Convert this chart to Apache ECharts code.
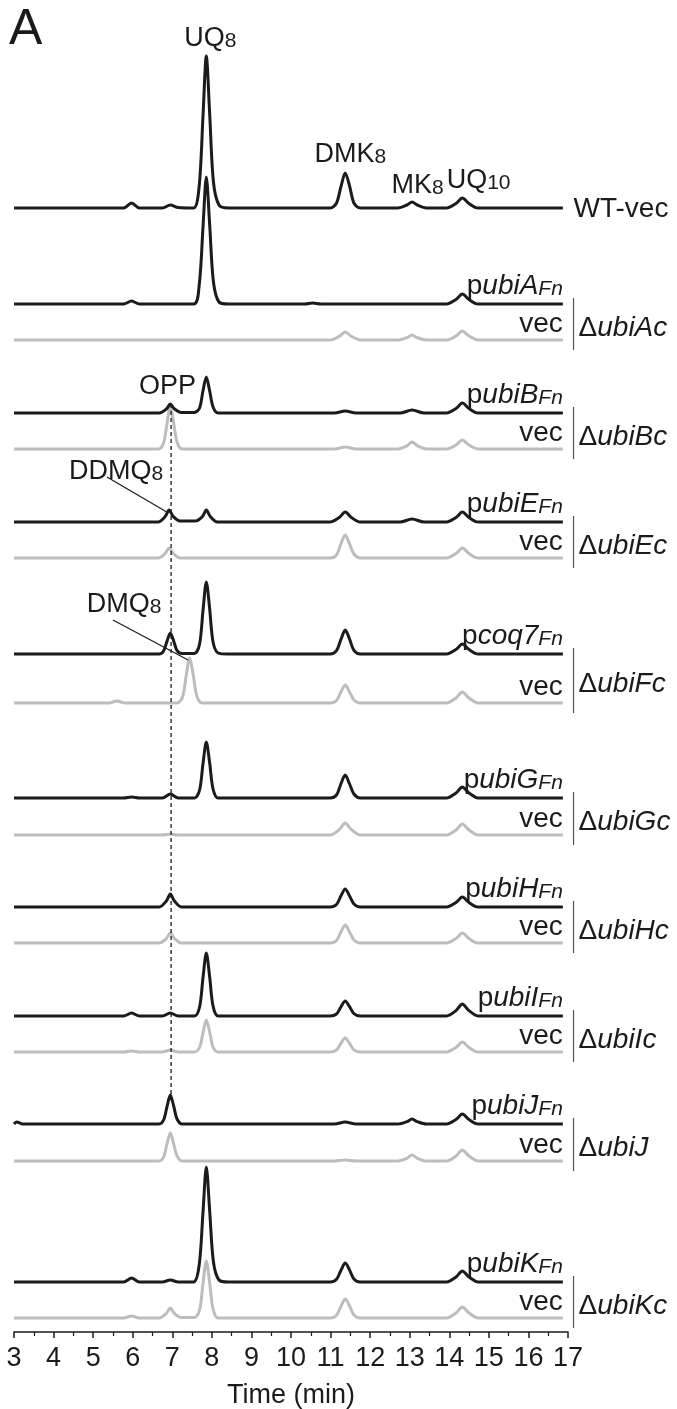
<!DOCTYPE html>
<html>
<head>
<meta charset="utf-8">
<script src="https://cdn.jsdelivr.net/npm/echarts@6.0.0/dist/echarts.min.js"></script>
<style>
  html, body { margin: 0; padding: 0; background: #fff; }
  #chart { width: 677px; height: 1409px; }
</style>
</head>
<body>
<div id="chart"></div>
<script>
// time axis (min)
const timeMin = 3;
const timeMax = 17;
const traceEnd = 16.87;

// chromatogram traces: [time (min), signal]
const wtVec = [[3,0],[5.77,0],[5.97,5],[6.17,0],[6.75,0],[6.95,3],[7.15,0.5],[7.54,0],[7.68,22],[7.775,91],[7.86,152],[7.945,94],[8.04,26],[8.18,3],[8.42,0],[10.99,0],[11.15,5],[11.26,21],[11.37,35],[11.48,22],[11.59,5],[11.75,0],[12.7,0],[12.93,3],[13.06,6],[13.19,3],[13.42,0],[13.93,0],[14.17,4.5],[14.33,10],[14.49,4.7],[14.73,0],[16.87,0]];
const pUbiA = [[3,0],[5.77,0],[5.97,3],[6.17,0],[7.54,0],[7.68,19],[7.775,76],[7.86,127],[7.945,79],[8.04,22],[8.18,2],[8.42,0],[10.35,0],[10.55,1],[10.75,0],[13.93,0],[14.17,4.5],[14.33,10],[14.49,4.7],[14.73,0],[16.87,0]];
const vecUbiA = [[3,0],[10.99,0],[11.22,3.6],[11.37,8],[11.52,3.8],[11.75,0],[12.7,0],[12.93,2.3],[13.06,5],[13.19,2.4],[13.42,0],[13.93,0],[14.17,4],[14.33,9],[14.49,4.2],[14.73,0],[16.87,0]];
const pUbiB = [[3,0],[6.67,0],[6.85,4],[6.95,9],[7.05,4.2],[7.23,0.5],[7.56,0.5],[7.69,5],[7.775,22],[7.86,36],[7.945,22],[8.03,6],[8.16,0],[11.1,0],[11.37,2],[11.64,0],[12.76,0],[13.06,3],[13.36,0],[13.93,0],[14.17,4.5],[14.33,10],[14.49,4.7],[14.73,0],[16.87,0]];
const vecUbiB = [[3,0],[6.65,0],[6.78,6],[6.865,25],[6.95,42],[7.035,26],[7.12,7],[7.25,0],[11.1,0],[11.37,2],[11.64,0],[12.7,0],[12.93,3.2],[13.06,7],[13.19,3.3],[13.42,0],[13.93,0],[14.17,4],[14.33,9],[14.49,4.2],[14.73,0],[16.87,0]];
const pUbiE = [[3,0],[6.64,0],[6.82,5.4],[6.92,12],[7.02,5.6],[7.2,1],[7.58,1],[7.76,5.4],[7.86,12],[7.96,5.6],[8.14,0],[10.99,0],[11.22,4.5],[11.37,10],[11.52,4.7],[11.75,0],[12.76,0],[13.06,3],[13.36,0],[13.93,0],[14.17,4.5],[14.33,10],[14.49,4.7],[14.73,0],[16.87,0]];
const vecUbiE = [[3,0],[6.64,0],[6.82,4.5],[6.92,10],[7.02,4.7],[7.2,0],[10.99,0],[11.15,3],[11.26,14],[11.37,23],[11.48,14],[11.59,4],[11.75,0],[13.93,0],[14.17,4.5],[14.33,10],[14.49,4.7],[14.73,0],[16.87,0]];
const pCoq7 = [[3,0],[6.67,0],[6.78,3],[6.865,12.6],[6.95,21],[7.035,13],[7.12,3.4],[7.25,0.5],[7.56,0.5],[7.69,10],[7.775,43],[7.86,72],[7.945,45],[8.03,12],[8.16,1],[8.4,0],[10.99,0],[11.15,3.4],[11.26,14.4],[11.37,24],[11.48,15],[11.59,3.6],[11.75,0],[13.93,0],[14.17,4.5],[14.33,10],[14.49,4.7],[14.73,0],[16.87,0]];
const vecUbiF = [[3,0],[5.4,0],[5.6,2],[5.8,0],[7.12,0],[7.26,6],[7.35,27],[7.44,45],[7.53,28],[7.62,7],[7.76,0],[10.99,0],[11.15,2.5],[11.26,11],[11.37,18],[11.48,11],[11.59,3],[11.75,0],[13.93,0],[14.17,5],[14.33,11],[14.49,5.2],[14.73,0],[16.87,0]];
const pUbiG = [[3,0],[5.77,0],[5.97,1],[6.17,0],[6.75,0],[6.95,4],[7.15,0],[7.56,0],[7.69,8],[7.775,34],[7.86,56],[7.945,35],[8.03,9],[8.16,0],[10.99,0],[11.15,3],[11.26,14],[11.37,23],[11.48,14],[11.59,4],[11.75,0],[13.93,0],[14.17,5],[14.33,11],[14.49,5.2],[14.73,0],[16.87,0]];
const vecUbiG = [[3,0],[6.75,0],[6.95,1],[7.15,0],[10.99,0],[11.22,5.4],[11.37,12],[11.52,5.6],[11.75,0],[13.93,0],[14.17,5],[14.33,11],[14.49,5.2],[14.73,0],[16.87,0]];
const pUbiH = [[3,0],[6.67,0],[6.85,6],[6.95,13],[7.05,6.2],[7.23,0],[10.99,0],[11.15,2.5],[11.26,11],[11.37,18],[11.48,11],[11.59,3],[11.75,0],[13.93,0],[14.17,4.5],[14.33,10],[14.49,4.7],[14.73,0],[16.87,0]];
const vecUbiH = [[3,0],[6.67,0],[6.85,4.5],[6.95,10],[7.05,4.7],[7.23,0],[10.99,0],[11.15,2.5],[11.26,11],[11.37,18],[11.48,11],[11.59,3],[11.75,0],[13.93,0],[14.17,4.5],[14.33,10],[14.49,4.7],[14.73,0],[16.87,0]];
const pUbiI = [[3,0],[5.77,0],[5.97,3],[6.17,0],[6.75,0],[6.95,3],[7.15,0],[7.56,0],[7.69,9],[7.775,38],[7.86,63],[7.945,39],[8.03,10],[8.16,0],[10.99,0],[11.15,2],[11.26,9],[11.37,15],[11.48,9.3],[11.59,2.3],[11.75,0],[13.93,0],[14.17,5.4],[14.33,12],[14.49,5.6],[14.73,0],[16.87,0]];
const vecUbiI = [[3,0],[5.77,0],[5.97,1],[6.17,0],[6.75,0],[6.95,2],[7.15,0],[7.56,0],[7.69,4.5],[7.775,19],[7.86,32],[7.945,20],[8.03,5],[8.16,0],[10.99,0],[11.15,2],[11.26,8.5],[11.37,14],[11.48,8.7],[11.59,2.1],[11.75,0],[13.93,0],[14.17,4.5],[14.33,10],[14.49,4.7],[14.73,0],[16.87,0]];
const pUbiJ = [[3,0],[3.07,2],[3.22,0],[6.67,0],[6.78,4],[6.865,17],[6.95,29],[7.035,18],[7.12,5],[7.25,0],[11.1,0],[11.37,2],[11.64,0],[12.7,0],[12.93,2.3],[13.06,5],[13.19,2.4],[13.42,0],[13.93,0],[14.17,4.5],[14.33,10],[14.49,4.7],[14.73,0],[16.87,0]];
const vecUbiJ = [[3,0],[6.67,0],[6.78,4],[6.865,17],[6.95,28],[7.035,17],[7.12,5],[7.25,0],[11.1,0],[11.37,1],[11.64,0],[12.7,0],[12.93,2.7],[13.06,6],[13.19,2.8],[13.42,0],[13.93,0],[14.17,5],[14.33,11],[14.49,5.2],[14.73,0],[16.87,0]];
const pUbiK = [[3,0],[5.77,0],[5.97,4],[6.17,0],[6.75,0],[6.95,2],[7.15,0],[7.54,0],[7.68,17],[7.775,69],[7.86,115],[7.945,71],[8.04,20],[8.18,2],[8.42,0],[10.99,0],[11.15,2.7],[11.26,11.5],[11.37,19],[11.48,12],[11.59,3],[11.75,0],[13.93,0],[14.17,5],[14.33,11],[14.49,5.2],[14.73,0],[16.87,0]];
const vecUbiK = [[3,0],[5.77,0],[5.97,2],[6.17,0],[6.67,0],[6.85,4.5],[6.95,10],[7.05,4.7],[7.23,0.5],[7.56,0.5],[7.69,8],[7.775,34],[7.86,57],[7.945,35],[8.03,9],[8.16,0],[10.99,0],[11.15,2.7],[11.26,11.5],[11.37,19],[11.48,12],[11.59,3],[11.75,0],[13.93,0],[14.17,5],[14.33,11],[14.49,5.2],[14.73,0],[16.87,0]];

// strain pairs: complemented plasmid trace + empty vector trace
const plasmidGenes = ['ubiA', 'ubiB', 'ubiE', 'coq7', 'ubiG', 'ubiH', 'ubiI', 'ubiJ', 'ubiK'];
const mutantNames = ['ubiAc', 'ubiBc', 'ubiEc', 'ubiFc', 'ubiGc', 'ubiHc', 'ubiIc', 'ubiJ', 'ubiKc'];
const plasmidTraces = [pUbiA, pUbiB, pUbiE, pCoq7, pUbiG, pUbiH, pUbiI, pUbiJ, pUbiK];
const vecTraces = [vecUbiA, vecUbiB, vecUbiE, vecUbiF, vecUbiG, vecUbiH, vecUbiI, vecUbiJ, vecUbiK];

// vertical stacking offsets of each trace (signal units)
const wtOffset = 1124;
const plasmidOffsets = [1028, 919, 810, 678, 534, 425, 316, 208, 50];
const vecOffsets = [992, 883, 774, 629, 497, 389, 280, 171, 14];

const FONT = '"Liberation Sans", Arial, Helvetica, sans-serif';
const BLACK = '#1b1b1b';
const GREY = '#bdbdbd';

const chart = echarts.init(document.getElementById('chart'), null, { renderer: 'canvas' });

function shifted(points, offset) {
  return points.map(p => [p[0], p[1] + offset]);
}

const series = [];
function addTrace(points, offset, color, z) {
  series.push({
    type: 'line',
    data: shifted(points, offset),
    smooth: 0.3,
    symbol: 'none',
    silent: true,
    clip: false,
    z: z,
    lineStyle: { color: color, width: 3 },
    animation: false
  });
}
addTrace(wtVec, wtOffset, BLACK, 4);
plasmidTraces.forEach((tr, i) => addTrace(tr, plasmidOffsets[i], BLACK, 4));
vecTraces.forEach((tr, i) => addTrace(tr, vecOffsets[i], GREY, 3));

const option = {
  animation: false,
  backgroundColor: '#fff',
  grid: { left: 14, right: 109, top: 0, bottom: 77, outerBoundsMode: 'none', containLabel: false },
  xAxis: {
    type: 'value',
    min: timeMin,
    max: timeMax,
    interval: 1,
    name: 'Time (min)',
    nameLocation: 'middle',
    nameGap: 50,
    nameTextStyle: { fontFamily: FONT, fontSize: 27, color: BLACK },
    axisLine: { show: true, onZero: false, lineStyle: { color: BLACK, width: 1.5 } },
    axisTick: { show: true, length: 6, lineStyle: { color: BLACK, width: 1.5 } },
    minorTick: { show: true, splitNumber: 2, length: 4, lineStyle: { color: BLACK, width: 1.2 } },
    axisLabel: { fontFamily: FONT, fontSize: 27, color: BLACK, margin: 13 },
    splitLine: { show: false }
  },
  yAxis: {
    type: 'value',
    min: 0,
    max: 1332,
    show: false
  },
  series: series
};
chart.setOption(option);

// annotations
const px = (t, v) => chart.convertToPixel({ gridIndex: 0 }, [t, v]);

const rich = {
  n: { fontFamily: FONT, fontSize: 27, lineHeight: 30, verticalAlign: 'bottom', color: BLACK },
  b: { fontFamily: FONT, fontSize: 28, lineHeight: 30, verticalAlign: 'bottom', color: BLACK },
  i: { fontFamily: FONT, fontSize: 28, lineHeight: 30, verticalAlign: 'bottom', fontStyle: 'italic', color: BLACK },
  s: { fontFamily: FONT, fontSize: 21, lineHeight: 9, verticalAlign: 'bottom', fontStyle: 'italic', color: BLACK },
  sn: { fontFamily: FONT, fontSize: 21, lineHeight: 9, verticalAlign: 'bottom', color: BLACK }
};

function textEl(p, text, align, vAlign, dx, dy) {
  return {
    type: 'text',
    x: p[0] + (dx || 0),
    y: p[1] + (dy || 0),
    silent: true,
    z: 10,
    style: {
      text: text,
      rich: rich,
      fontFamily: FONT,
      fontSize: 27,
      fill: BLACK,
      align: align,
      verticalAlign: vAlign
    }
  };
}
function lineEl(a, b, dashed, color, width) {
  return {
    type: 'line',
    silent: true,
    z: 9,
    shape: { x1: a[0], y1: a[1], x2: b[0], y2: b[1] },
    style: { stroke: color || BLACK, lineWidth: width || 1.2, lineDash: dashed ? [4, 3] : null }
  };
}

const graphics = [];
graphics.push({
  type: 'text', left: 9, top: 5, silent: true,
  style: { text: 'A', fontFamily: FONT, fontSize: 50, fill: BLACK }
});

// compound labels on the WT trace
graphics.push(textEl(px(7.96, wtOffset + 156), '{n|UQ}{sn|8}', 'center', 'bottom'));
graphics.push(textEl(px(11.5, wtOffset + 40), '{n|DMK}{sn|8}', 'center', 'bottom'));
graphics.push(textEl(px(13.2, wtOffset + 9), '{n|MK}{sn|8}', 'center', 'bottom'));
graphics.push(textEl(px(14.74, wtOffset + 14), '{n|UQ}{sn|10}', 'center', 'bottom'));

// OPP, DDMQ8, DMQ8
graphics.push(textEl(px(7.6, plasmidOffsets[1] + 13), '{n|OPP}', 'right', 'bottom'));
graphics.push(textEl(px(4.39, 847), '{n|DDMQ}{sn|8}', 'left', 'bottom'));
graphics.push(lineEl(px(5.35, 855), px(6.86, plasmidOffsets[2] + 10)));
graphics.push(textEl(px(4.84, 714), '{n|DMQ}{sn|8}', 'left', 'bottom'));
graphics.push(lineEl(px(5.5, 712), px(7.4, vecOffsets[3] + 43)));

// dashed marker at 6.97 min from OPP peak down to pubiJ peak
graphics.push(lineEl(px(6.97, plasmidOffsets[1] + 9), px(6.97, plasmidOffsets[7] + 29), true, BLACK, 1.3));

// right hand labels
graphics.push(textEl(px(17.14, wtOffset), '{b|WT-vec}', 'left', 'middle'));
plasmidGenes.forEach((g, i) => {
  graphics.push(textEl(px(traceEnd, plasmidOffsets[i]), '{b|p}{i|' + g + '}{s|Fn}', 'right', 'bottom', 0, -4));
  graphics.push(textEl(px(traceEnd, vecOffsets[i]), '{b|vec}', 'right', 'bottom', 0, -2));
  const top = px(17.14, plasmidOffsets[i]);
  const bot = px(17.14, vecOffsets[i]);
  graphics.push(lineEl([top[0], top[1] - 6], [bot[0], bot[1] + 10], false, '#555', 1.2));
  graphics.push(textEl([top[0] + 5, (top[1] + bot[1]) / 2 + 5], '{b|\u0394}{i|' + mutantNames[i] + '}', 'left', 'middle'));
});

chart.setOption({ graphic: graphics });
</script>
</body>
</html>
